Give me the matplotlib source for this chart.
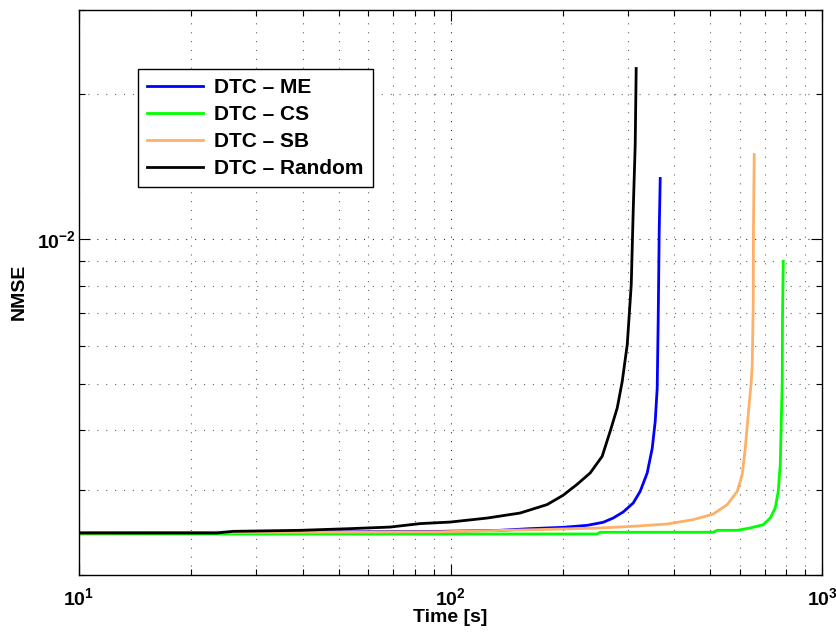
import matplotlib
matplotlib.use('Agg')
import matplotlib.pyplot as plt
import matplotlib.ticker as ticker

plt.rcParams.update({
    'font.family': 'Liberation Sans',
    'font.weight': 'bold',
    'mathtext.fontset': 'custom',
    'mathtext.rm': 'Liberation Sans:bold',
    'mathtext.bf': 'Liberation Sans:bold',
    'mathtext.it': 'Liberation Sans:bold',
})

# time [s] vs NMSE for each selection strategy
t_me = [10, 93.7, 135.9, 163.7, 200.9, 233, 257.3, 273.7, 291.2, 309.9, 323.6, 338,
        348.7, 355.2, 359.6, 361.8, 364.1, 366.4]
nmse_me = [2.446e-3, 2.465e-3, 2.477e-3, 2.497e-3, 2.513e-3, 2.537e-3, 2.574e-3, 2.627e-3,
           2.704e-3, 2.823e-3, 2.985e-3, 3.26e-3, 3.67e-3, 4.175e-3, 4.895e-3, 6.74e-3,
           1.037e-2, 1.336e-2]

t_cs = [10, 248, 252.6, 508.8, 521.8, 590.4, 640, 693.7, 724.4, 747.2, 761.3, 770.9,
        775.6, 780.4, 781.5, 785.3]
nmse_cs = [2.434e-3, 2.434e-3, 2.454e-3, 2.454e-3, 2.477e-3, 2.477e-3, 2.505e-3, 2.545e-3,
           2.627e-3, 2.756e-3, 2.985e-3, 3.397e-3, 4.175e-3, 5.05e-3, 6.74e-3, 8.98e-3]

t_sb = [10, 39.4, 93.7, 174.1, 252.6, 309.9, 382.6, 449.6, 508.8, 555, 590.4, 609,
        620.5, 632.1, 644, 648, 652.1, 652.8, 656.1]
nmse_sb = [2.446e-3, 2.454e-3, 2.46e-3, 2.486e-3, 2.505e-3, 2.525e-3, 2.553e-3, 2.607e-3,
           2.678e-3, 2.802e-3, 2.985e-3, 3.235e-3, 3.67e-3, 4.31e-3, 5.05e-3, 5.48e-3,
           7.41e-3, 1.037e-2, 1.498e-2]

t_rand = [10, 23.5, 26, 39.4, 53.6, 68.7, 82.8, 99.7, 125.4, 153.8, 181.8, 200.8, 219,
          237.4, 255.7, 268.7, 280.7, 289.5, 298.7, 306.2, 309.9, 313.8, 315.7]
nmse_rand = [2.446e-3, 2.446e-3, 2.465e-3, 2.477e-3, 2.497e-3, 2.516e-3, 2.558e-3, 2.577e-3,
             2.627e-3, 2.691e-3, 2.802e-3, 2.93e-3, 3.088e-3, 3.26e-3, 3.53e-3, 3.98e-3,
             4.45e-3, 5.05e-3, 6.03e-3, 8.04e-3, 1.141e-2, 1.572e-2, 2.262e-2]

labels = ['DTC \u2013 ME', 'DTC \u2013 CS', 'DTC \u2013 SB', 'DTC \u2013 Random']
colors = ['#0000ff', '#00ff00', '#ffb068', '#000000']

fig = plt.figure(figsize=(8.37, 6.35), dpi=100)
ax = fig.add_axes([0.0944, 0.0945, 0.8880, 0.8905])

series = [(t_me, nmse_me), (t_cs, nmse_cs), (t_sb, nmse_sb), (t_rand, nmse_rand)]
for (t, v), lab, c in zip(series, labels, colors):
    ax.plot(t, v, color=c, lw=2.0, label=lab)

ax.set_xscale('log')
ax.set_yscale('log')
ax.set_xlim(10, 1000)
ax.set_ylim(2e-3, 3e-2)

ax.xaxis.set_major_locator(ticker.FixedLocator([10, 100, 1000]))
ax.xaxis.set_major_formatter(ticker.FixedFormatter([r'$10^{1}$', r'$10^{2}$', r'$10^{3}$']))
ax.xaxis.set_minor_locator(ticker.LogLocator(base=10, subs=range(2, 10)))
ax.xaxis.set_minor_formatter(ticker.NullFormatter())
ax.yaxis.set_major_locator(ticker.FixedLocator([1e-2]))
ax.yaxis.set_major_formatter(ticker.FixedFormatter([r'$10^{-2}$']))
ax.yaxis.set_minor_locator(ticker.LogLocator(base=10, subs=range(2, 10)))
ax.yaxis.set_minor_formatter(ticker.NullFormatter())

ax.tick_params(which='both', direction='in', top=True, right=True, width=0.8)
ax.tick_params(which='major', length=8, labelsize=14)
ax.tick_params(which='minor', length=4)
ax.tick_params(axis='x', which='major', pad=9)
ax.tick_params(axis='y', which='major', pad=2)

ax.grid(True, which='major', color='0.2', ls=(0, (1, 7)), lw=0.8)
ax.grid(True, which='minor', color='0.4', ls=(0, (1, 7)), lw=0.8)

for s in ax.spines.values():
    s.set_linewidth(1.0)

ax.set_xlabel('Time [s]', fontsize=14, fontweight='bold', labelpad=0)
ax.set_ylabel('NMSE', fontsize=14, fontweight='bold', labelpad=7)

leg = ax.legend(loc='upper left', bbox_to_anchor=(0.079, 0.895), fontsize=15,
                fancybox=False, framealpha=1, edgecolor='black', borderpad=0.45,
                labelspacing=0.38, handlelength=2.7, handletextpad=0.5,
                borderaxespad=0)
leg.get_frame().set_linewidth(1.0)

plt.savefig('out.png', dpi=100)
